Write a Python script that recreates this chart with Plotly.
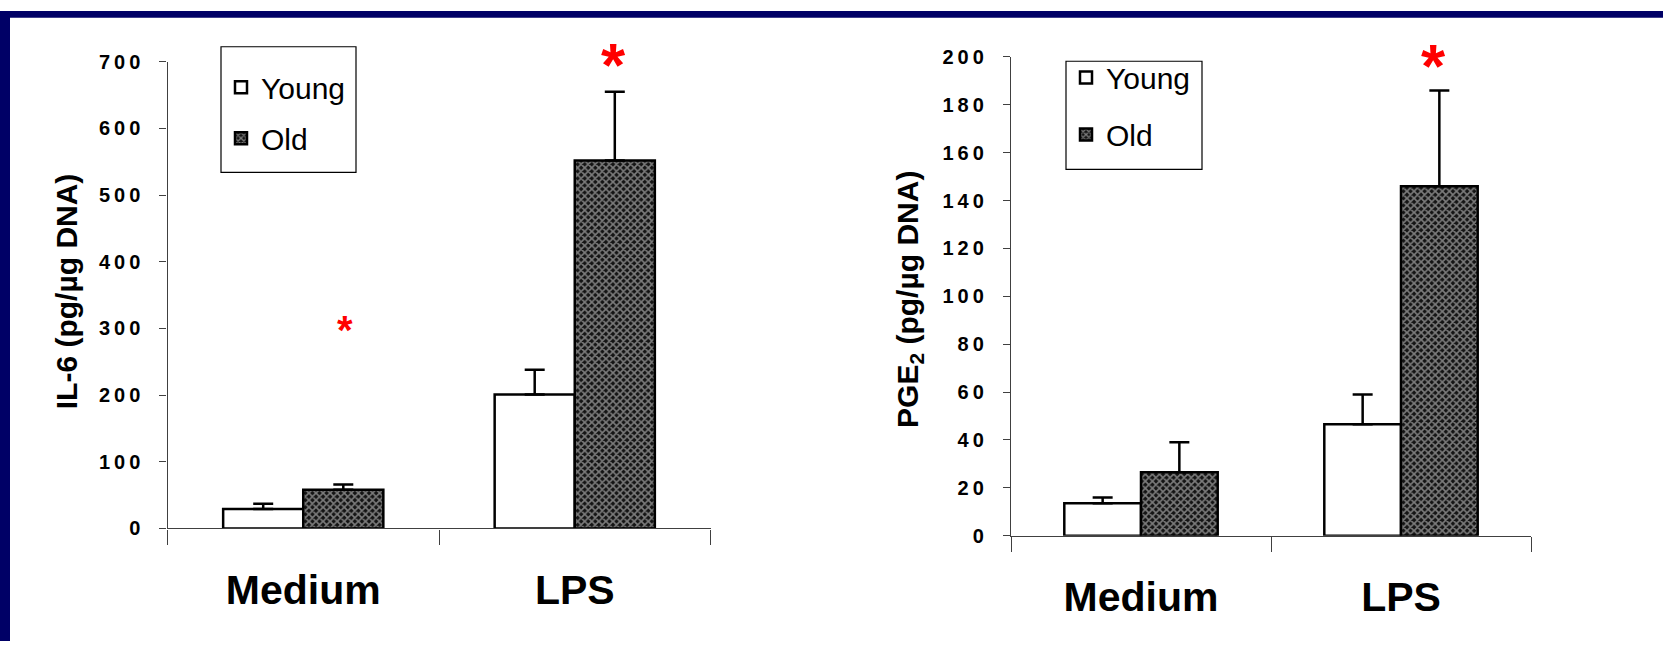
import plotly.graph_objects as go
from plotly.subplots import make_subplots

# ---- data ----
categories = ["Medium", "LPS"]
groups = ["Young", "Old"]

il6_young = [29, 201]
il6_young_err = [8, 37]
il6_old = [58, 552]
il6_old_err = [8, 103]

pge2_young = [13.5, 46.5]
pge2_young_err = [2.5, 12.5]
pge2_old = [26.5, 146]
pge2_old_err = [12.5, 40]

TS = "\u2009"  # thin space between digits
il6_ticks = [0, 100, 200, 300, 400, 500, 600, 700]
il6_ticktext = [TS.join(str(v)) for v in il6_ticks]
pge2_ticks = [0, 20, 40, 60, 80, 100, 120, 140, 160, 180, 200]
pge2_ticktext = [TS.join(str(v)) for v in pge2_ticks]

W, H = 1663, 652
FONT = "Arial, 'Liberation Sans', sans-serif"
NAVY = "#000066"

fig = make_subplots(rows=1, cols=2)


def add_pair(young, young_err, old, old_err, col, legend_name):
    fig.add_trace(go.Bar(
        x=categories, y=young, name=groups[0],
        marker=dict(color="white", line=dict(color="black", width=2.5)),
        error_y=dict(type="data", array=young_err, arrayminus=[0] * len(young),
                     symmetric=False, color="black", thickness=2.5, width=10),
        legend=legend_name, legendgroup=legend_name + "y",
    ), row=1, col=col)
    fig.add_trace(go.Bar(
        x=categories, y=old, name=groups[1],
        marker=dict(color="#141414", line=dict(color="black", width=2.5),
                    pattern=dict(shape="x", fgcolor="#e4e4e4", bgcolor="#141414",
                                 size=5, solidity=0.55)),
        error_y=dict(type="data", array=old_err, arrayminus=[0] * len(old),
                     symmetric=False, color="black", thickness=2.5, width=10),
        legend=legend_name, legendgroup=legend_name + "o",
    ), row=1, col=col)


add_pair(il6_young, il6_young_err, il6_old, il6_old_err, 1, "legend")
add_pair(pge2_young, pge2_young_err, pge2_old, pge2_old_err, 2, "legend2")

xaxis_common = dict(
    type="category", showline=True, linecolor="#404040", linewidth=1.3,
    ticks="outside", tickson="boundaries", ticklen=15, tickcolor="#404040",
    tickwidth=1.3, showgrid=False, zeroline=False,
    tickfont=dict(family=FONT, size=41, color="black", weight="bold"),
    ticklabelstandoff=25,
)
yaxis_common = dict(
    showline=True, linecolor="#404040", linewidth=1.3, ticks="outside",
    ticklen=7, tickcolor="#404040", tickwidth=1.3, showgrid=False,
    zeroline=False,
    tickfont=dict(family=FONT, size=20, color="black", weight="bold"),
    ticklabelstandoff=15,
)

legend_common = dict(
    xanchor="left", yanchor="top", bgcolor="rgba(0,0,0,0)", borderwidth=0,
    font=dict(family=FONT, size=30, color="black"), traceorder="grouped",
)

fig.update_layout(
    width=W, height=H,
    margin=dict(l=0, r=0, t=0, b=0),
    paper_bgcolor="white", plot_bgcolor="white",
    barmode="group", bargap=0.41, bargroupgap=0,
    xaxis=dict(xaxis_common, domain=[167.5 / W, 710.5 / W]),
    xaxis2=dict(xaxis_common, domain=[1011 / W, 1531 / W]),
    yaxis=dict(yaxis_common, range=[0, 700], domain=[1 - 535.5 / H, 1 - 52.5 / H],
               tickvals=il6_ticks, ticktext=il6_ticktext),
    yaxis2=dict(yaxis_common, range=[0, 200], domain=[1 - 543 / H, 1 - 47.5 / H],
                tickvals=pge2_ticks, ticktext=pge2_ticktext),
    legend=dict(legend_common, x=221 / W, y=1 - 52 / H, tracegroupgap=9),
    legend2=dict(legend_common, x=1066 / W, y=1 - 42 / H, tracegroupgap=15),
    showlegend=True,
)

# legend frames
for x0, y0, x1, y1 in [(221, 37, 356, 167), (1066, 52, 1202, 164)]:
    fig.add_shape(type="rect", xref="paper", yref="paper",
                  x0=x0 / W, x1=x1 / W, y0=1 - y1 / H, y1=1 - y0 / H,
                  line=dict(color="black", width=1.2), fillcolor="rgba(0,0,0,0)",
                  layer="below")

# y-axis titles
title_font = dict(family=FONT, size=30, color="black", weight="bold")
fig.add_annotation(text="IL-6 (pg/\u00b5g DNA)", xref="paper", yref="paper",
                   x=66 / W, y=1 - 290 / H, xanchor="center", yanchor="middle",
                   textangle=-90, showarrow=False, font=title_font)
fig.add_annotation(text="PGE<sub>2</sub> (pg/\u00b5g DNA)", xref="paper", yref="paper",
                   x=910 / W, y=1 - 299 / H, xanchor="center", yanchor="middle",
                   textangle=-90, showarrow=False, font=title_font)

# significance markers
star = dict(text="*", showarrow=False, xanchor="center", yanchor="middle",
            font=dict(family=FONT, color="#ff0000", weight="bold"))
fig.add_annotation(star, x="LPS", y=700, xref="x", yref="y", xshift=39,
                   yshift=-3, font_size=62)
fig.add_annotation(star, x="Medium", y=308, xref="x", yref="y", xshift=42,
                   yshift=-7, font_size=40)
fig.add_annotation(star, x="LPS", y=200, xref="x2", yref="y2", xshift=32,
                   yshift=-9, font_size=62)

# navy slide frame along the top and left edges
fig.add_shape(type="rect", xref="paper", yref="paper", x0=0, x1=1,
              y0=1 - 7 / H, y1=1, fillcolor=NAVY, line_width=0, layer="above")
fig.add_shape(type="rect", xref="paper", yref="paper", x0=0, x1=10 / W,
              y0=0, y1=1, fillcolor=NAVY, line_width=0, layer="above")

fig.write_html("out.html")
